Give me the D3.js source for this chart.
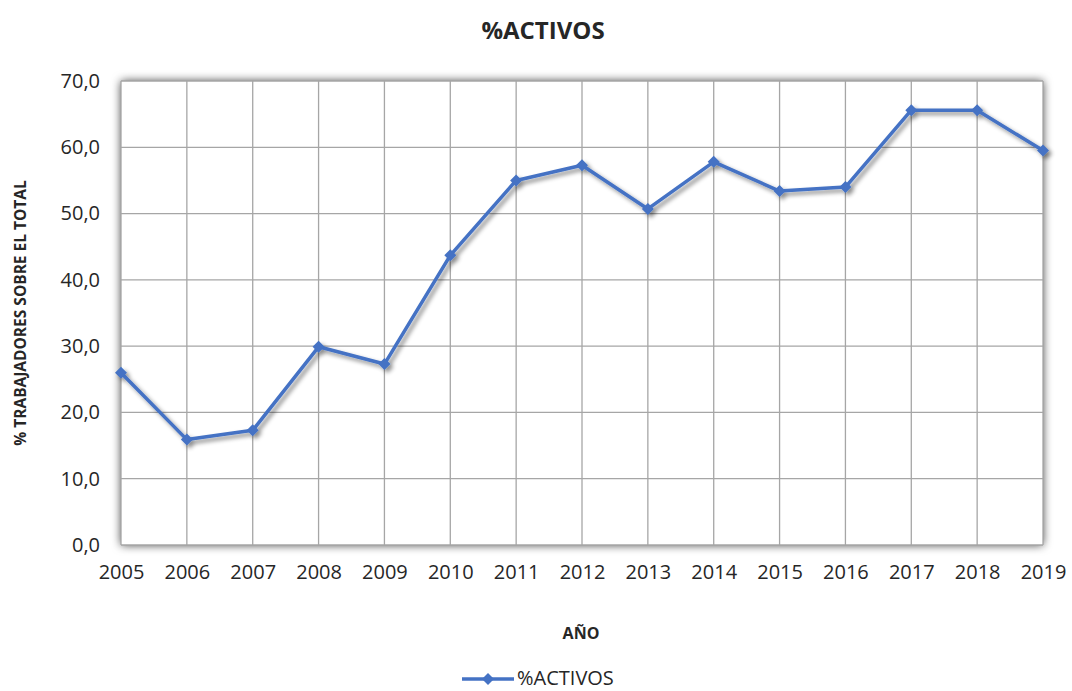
<!DOCTYPE html>
<html>
<head>
<meta charset="utf-8">
<script src="https://cdnjs.cloudflare.com/ajax/libs/d3/7.8.5/d3.min.js"></script>
<style>
  body { margin: 0; background: #fff; }
  text { font-family: "Open Sans", "Liberation Sans", sans-serif; fill: #262626; }
</style>
</head>
<body>
<div id="chart"></div>
<script>
const years=["2005","2006","2007","2008","2009","2010","2011","2012","2013","2014","2015","2016","2017","2018","2019"];
const activos=[26.0,15.9,17.3,29.9,27.3,43.7,55.0,57.3,50.7,57.8,53.4,54.0,65.6,65.6,59.5];
const yTicks=[0,10,20,30,40,50,60,70];

const width=1072, height=691;
const margin={left: 121, right: 29, top: 81, bottom: 146};

const svg=d3.select("#chart").append("svg")
    .attr("width", width)
    .attr("height", height);

const defs=svg.append("defs");
defs.append("filter").attr("id", "boxShadow")
    .attr("x", "-10%").attr("y", "-10%").attr("width", "120%").attr("height", "120%")
    .append("feDropShadow")
    .attr("dx", 0).attr("dy", 0).attr("stdDeviation", 5)
    .attr("flood-color", "#000").attr("flood-opacity", 0.75);
defs.append("filter").attr("id", "lineShadow")
    .attr("x", "-10%").attr("y", "-10%").attr("width", "120%").attr("height", "120%")
    .append("feDropShadow")
    .attr("dx", 3).attr("dy", 3).attr("stdDeviation", 2)
    .attr("flood-color", "#000").attr("flood-opacity", 0.45);

const x=d3.scalePoint()
    .domain(years)
    .range([margin.left, width-margin.right]);

const y=d3.scaleLinear()
    .domain([0, 70])
    .range([height-margin.bottom, margin.top]);

// plot area with shadow
svg.append("rect")
    .attr("x", margin.left)
    .attr("y", margin.top)
    .attr("width", width-margin.left-margin.right)
    .attr("height", height-margin.top-margin.bottom)
    .attr("fill", "#fff")
    .attr("filter", "url(#boxShadow)");

// grid
svg.append("g")
    .selectAll("line")
    .data(yTicks)
    .enter().append("line")
    .attr("x1", margin.left).attr("x2", width-margin.right)
    .attr("y1", d => y(d)).attr("y2", d => y(d))
    .attr("stroke", "#a6a6a6").attr("stroke-width", 1.3);

svg.append("g")
    .selectAll("line")
    .data(years)
    .enter().append("line")
    .attr("x1", d => x(d)).attr("x2", d => x(d))
    .attr("y1", margin.top).attr("y2", height-margin.bottom)
    .attr("stroke", "#a6a6a6").attr("stroke-width", 1.3);

// axes labels
const fmt=d => d.toFixed(1).replace(".", ",");
const yAxis=svg.append("g")
    .attr("transform", `translate(${margin.left},0)`)
    .call(d3.axisLeft(y).tickValues(yTicks).tickFormat(fmt).tickSize(0).tickPadding(21));
yAxis.select(".domain").remove();
yAxis.selectAll("text")
    .attr("font-size", 20)
    .attr("font-family", "'Open Sans', sans-serif")
    .attr("fill", "#262626");

const xAxis=svg.append("g")
    .attr("transform", `translate(0,${height-margin.bottom})`)
    .call(d3.axisBottom(x).tickSize(0).tickPadding(20));
xAxis.select(".domain").remove();
xAxis.selectAll("text")
    .attr("font-size", 20)
    .attr("font-family", "'Open Sans', sans-serif")
    .attr("fill", "#262626");

// line
const line=d3.line()
    .x((d, i) => x(years[i]))
    .y(d => y(d));

const series=svg.append("g").attr("filter", "url(#lineShadow)");
series.append("path")
    .datum(activos)
    .attr("d", line)
    .attr("fill", "none")
    .attr("stroke", "#4472c4")
    .attr("stroke-width", 3.5)
    .attr("stroke-linejoin", "round");

// square turned 45 degrees, as in the original marker
const diamond=d3.symbol().type(d3.symbolSquare).size(72);
series.selectAll(".pt")
    .data(activos)
    .enter().append("path")
    .attr("class", "pt")
    .attr("d", diamond)
    .attr("transform", (d, i) => `translate(${x(years[i])},${y(d)}) rotate(45)`)
    .attr("fill", "#4472c4");

// titles
svg.append("text")
    .attr("x", 543).attr("y", 39)
    .attr("text-anchor", "middle")
    .attr("font-size", 24).attr("font-weight", "bold")
    .attr("fill", "#000")
    .text("%ACTIVOS");

svg.append("text")
    .attr("x", 581).attr("y", 639)
    .attr("text-anchor", "middle")
    .attr("font-size", 16).attr("font-weight", "bold")
    .attr("fill", "#000")
    .text("AÑO");

svg.append("text")
    .attr("transform", "translate(26,313) rotate(-90)")
    .attr("text-anchor", "middle")
    .attr("font-size", 15.5).attr("font-weight", "bold")
    .attr("fill", "#000")
    .text("% TRABAJADORES SOBRE EL TOTAL");

// legend
const legend=svg.append("g");
legend.append("line")
    .attr("x1", 462).attr("x2", 514)
    .attr("y1", 679).attr("y2", 679)
    .attr("stroke", "#4472c4").attr("stroke-width", 3.5);
legend.append("path")
    .attr("d", diamond)
    .attr("transform", "translate(488,679) rotate(45)")
    .attr("fill", "#4472c4");
legend.append("text")
    .attr("x", 517).attr("y", 685)
    .attr("font-size", 20)
    .text("%ACTIVOS");
</script>
</body>
</html>
